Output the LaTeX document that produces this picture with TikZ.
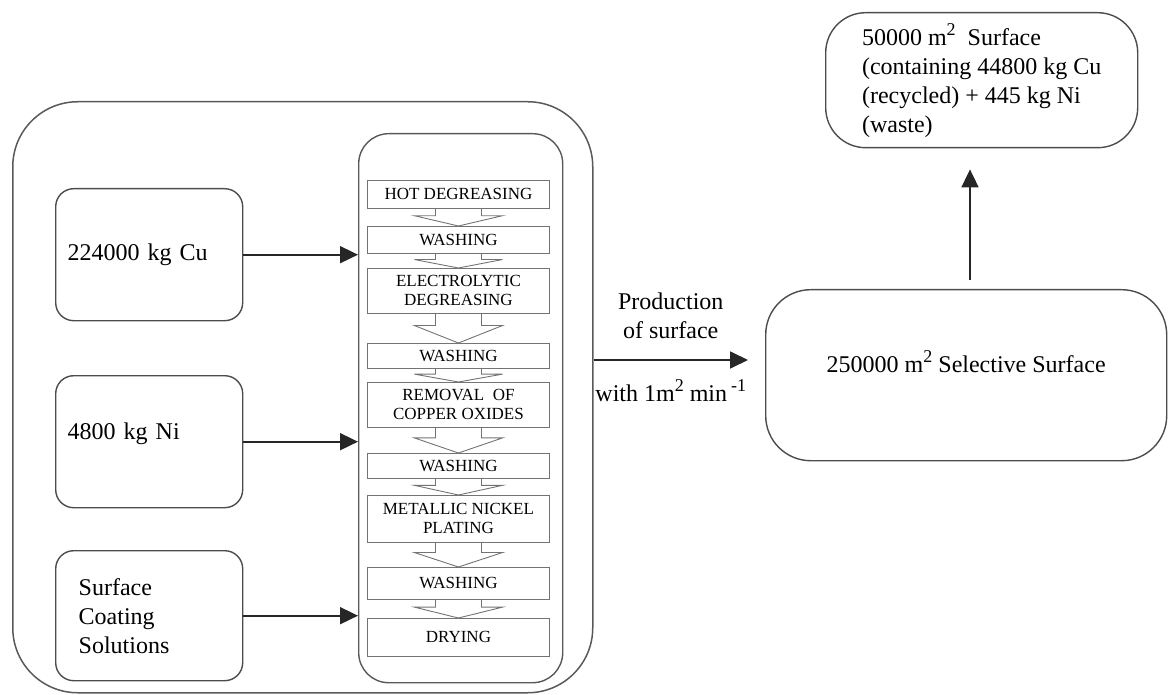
\documentclass[tikz,border=0pt]{standalone}
\usepackage{fontspec}
\setmainfont{Liberation Serif}
\usetikzlibrary{arrows.meta,calc,positioning}

\newcommand{\supx}[1]{\raisebox{.42em}{\fontsize{18}{18}\selectfont #1}}

\tikzset{
  inbox/.style={draw=black!70, line width=1.4pt, rounded corners=18pt, anchor=north west,
    minimum width=187pt, minimum height=132pt, inner xsep=12pt, text width=163pt, align=left},
  stepbox/.style={draw=black!55, line width=0.9pt, anchor=north west, minimum width=182pt,
    inner sep=0pt, align=center, font=\fontsize{17}{19}\selectfont},
  chev/.style={draw=black!55, line width=0.9pt},
  flow/.style={draw=black!85, line width=1.8pt, -{Triangle[length=18pt,width=17pt]}},
}

\newcommand{\stepflow}[2]{%
  \draw[chev] ($(#1.south)+(-23,0)$) -- ($(#1.south)!.4!(#2.north)+(-23,0)$)
    -- ($(#1.south)!.4!(#2.north)+(-44,0)$) -- (#2.north)
    -- ($(#1.south)!.4!(#2.north)+(44,0)$) -- ($(#1.south)!.4!(#2.north)+(23,0)$)
    -- ($(#1.south)+(23,0)$);}

\begin{document}
\begin{tikzpicture}[x=1pt, y=-1pt, every node/.style={font=\fontsize{24}{29}\selectfont}]
  \useasboundingbox (0,0) rectangle (1168,695);

  \node[draw=black!65, line width=1.5pt, rounded corners=65pt, anchor=north west,
    minimum width=580pt, minimum height=591pt, inner sep=0pt] (plant) at (12,101) {};
  \node[draw=black!65, line width=1.4pt, rounded corners=30pt, anchor=north west,
    minimum width=204pt, minimum height=549pt, inner sep=0pt] (proc) at (358,133) {};

  \node[inbox] (cu) at (55,188) {224000 kg Cu};
  \node[inbox, text depth=21pt] (ni) at (55,375) {4800 kg Ni};
  \node[inbox, minimum height=130pt, inner xsep=23pt, text width=141pt] (sol) at (55,550) {Surface\\Coating\\Solutions};

  \node[stepbox, minimum height=28pt] (s1) at (367,180) {HOT DEGREASING};
  \node[stepbox, minimum height=27pt] (s2) at (367,226) {WASHING};
  \node[stepbox, minimum height=45pt] (s3) at (367,268) {ELECTROLYTIC\\DEGREASING};
  \node[stepbox, minimum height=25pt] (s4) at (367,343) {WASHING};
  \node[stepbox, minimum height=45pt] (s5) at (367,382) {REMOVAL\ \ OF\\COPPER OXIDES};
  \node[stepbox, minimum height=25pt] (s6) at (367,453) {WASHING};
  \node[stepbox, minimum height=47pt] (s7) at (367,495) {METALLIC NICKEL\\PLATING};
  \node[stepbox, minimum height=32pt] (s8) at (367,567) {WASHING};
  \node[stepbox, minimum height=38pt] (s9) at (367,618) {DRYING};

  \stepflow{s1}{s2}
  \stepflow{s2}{s3}
  \stepflow{s3}{s4}
  \stepflow{s4}{s5}
  \stepflow{s5}{s6}
  \stepflow{s6}{s7}
  \stepflow{s7}{s8}
  \stepflow{s8}{s9}

  \node[draw=black!70, line width=1.4pt, rounded corners=45pt, anchor=north west,
    minimum width=401pt, minimum height=171pt, text depth=28pt] (sel) at (765,289) {250000 m\supx{2} Selective Surface};
  \node[draw=black!70, line width=1.4pt, rounded corners=40pt, anchor=north west,
    minimum width=312pt, minimum height=135pt, align=left] (res) at (825,12)
    {50000 m\supx{2}\ \ Surface\\(containing 44800 kg Cu\\(recycled) + 445 kg Ni\\(waste)};

  \draw[flow] (cu.east) -- (cu.east -| proc.west);
  \draw[flow] (ni.east) -- (ni.east -| proc.west);
  \draw[flow] (sol.east) -- (sol.east -| proc.west);

  \coordinate (ptip) at (748,360);
  \draw[flow] (ptip -| plant.east) -- node[above=17pt, align=center] {Production\\of surface}
    node[below=15pt] {with 1m\supx{2} min\,\supx{-1}} (ptip);

  \coordinate (utail) at (970,280);
  \draw[flow, shorten >=21pt] (utail) -- (utail |- res.south);
\end{tikzpicture}
\end{document}
